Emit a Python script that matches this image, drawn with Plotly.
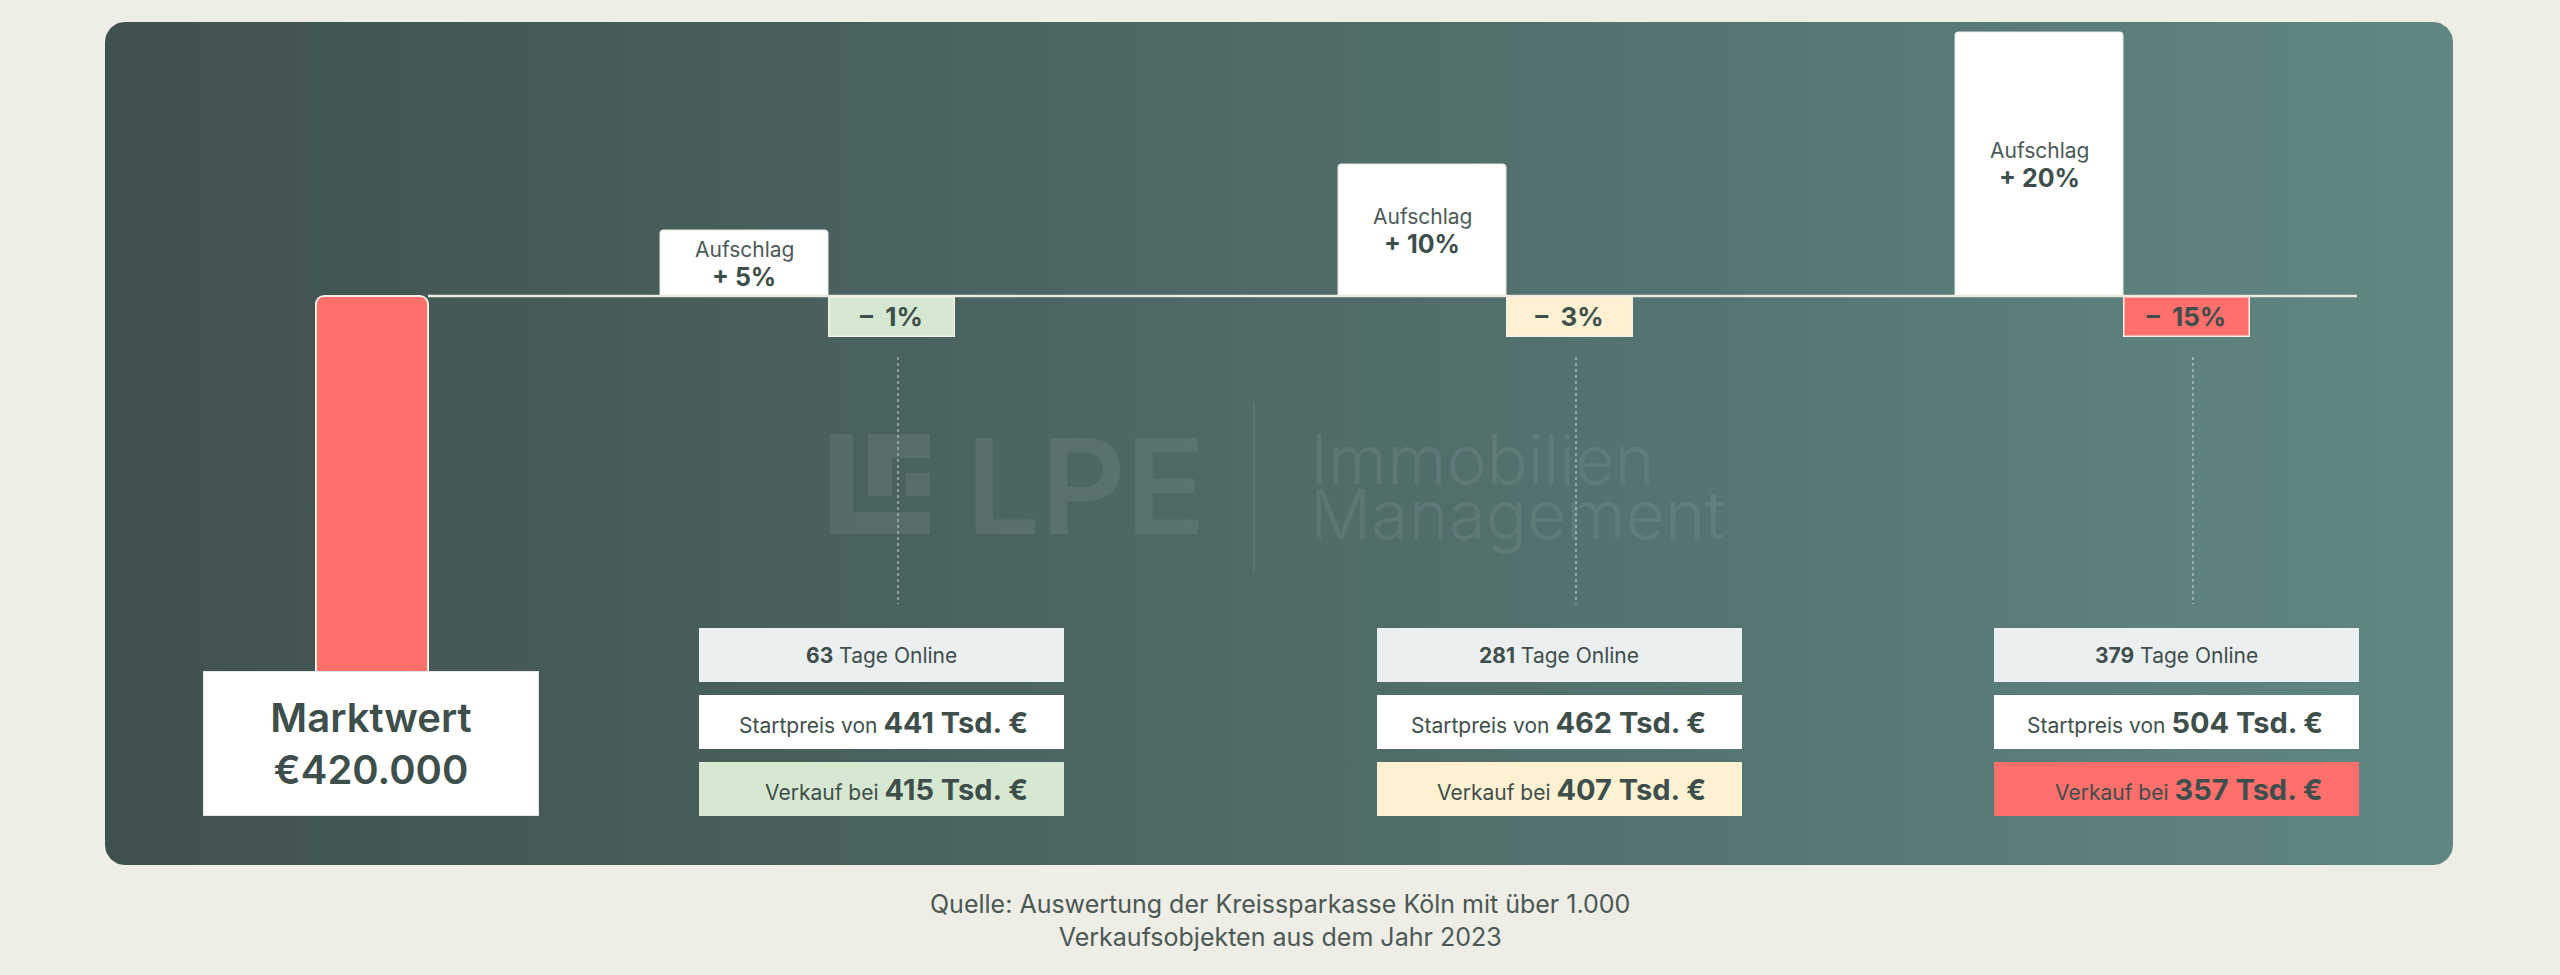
import numpy as np
import plotly.graph_objects as go

# ---------------- data ----------------
marktwert_tsd = 420
marktwert_label = "€420.000"
aufschlag_pct = [5, 10, 20]
abschlag_pct = [1, 3, 15]
tage_online = [63, 281, 379]
startpreis_tsd = [441, 462, 504]
verkauf_tsd = [415, 407, 357]
source_lines = ["Quelle: Auswertung der Kreissparkasse Köln mit über 1.000",
                "Verkaufsobjekten aus dem Jahr 2023"]

# ---------------- layout constants ----------------
W, H = 2560, 975
BASE_PX = 296            # pixel row of the zero line
PCT_PX = 13.2            # pixels per percent point
TSD_PX = 1.0             # pixels per Tsd. €
SLOT_X = [828, 1506, 2123]
MW_X = 372
TEXT = "#3e4e4b"
BG = "#eeede6"
GREEN, YELLOW, RED = "#d6e8d1", "#fdf1d2", "#ff6f6b"
NEG_COLORS = [GREEN, YELLOW, RED]
FONT = "Inter"

fig = go.Figure()

# ----- background panel with horizontal gradient (pixel axes x / y) -----
x0p, y0p, x1p, y1p, r = 105, 22, 2453, 865, 20
def arc(cx, cy, a0, a1):
    t = np.linspace(a0, a1, 12)
    return list(cx + r * np.cos(t)), list(cy + r * np.sin(t))
px, py = [], []
for cx, cy, a0, a1 in [(x1p - r, y0p + r, -np.pi / 2, 0), (x1p - r, y1p - r, 0, np.pi / 2),
                       (x0p + r, y1p - r, np.pi / 2, np.pi), (x0p + r, y0p + r, np.pi, 1.5 * np.pi)]:
    ax, ay = arc(cx, cy, a0, a1)
    px += ax
    py += ay
px.append(px[0]); py.append(py[0])
fig.add_trace(go.Scatter(x=px, y=py, mode="lines", fill="toself", line=dict(width=0),
                         fillgradient=dict(type="horizontal",
                                           colorscale=[[0, "#3f514e"], [0.5, "#4f6a67"], [1, "#608783"]]),
                         hoverinfo="skip", showlegend=False, xaxis="x", yaxis="y"))

# ----- Marktwert bar (Tsd. axis y3) -----
fig.add_trace(go.Bar(x=[MW_X], y=[marktwert_tsd], base=[-marktwert_tsd], width=112,
                     marker=dict(color=RED, line=dict(color="#f3ece2", width=2), cornerradius=8),
                     xaxis="x", yaxis="y3", hoverinfo="skip", showlegend=False))

# ----- Aufschlag bars (percent axis y2) -----
auf_x = [s - 84 for s in SLOT_X]
fig.add_trace(go.Bar(x=auf_x, y=aufschlag_pct, width=168,
                     marker=dict(color="#ffffff", line=dict(color="#e9e9e2", width=1), cornerradius=3),
                     xaxis="x", yaxis="y2", hoverinfo="skip", showlegend=False))

annotations = []
shapes = []

# Aufschlag labels
for xa, v in zip(auf_x, aufschlag_pct):
    annotations.append(dict(x=xa, y=v / 2, xref="x", yref="y2", showarrow=False, yshift=14,
                            text="Aufschlag", font=dict(size=21, color="#4c5a57", family=FONT)))
    annotations.append(dict(x=xa, y=v / 2, xref="x", yref="y2", showarrow=False, yshift=-14,
                            text=f"+ {v}%", font=dict(size=25, color=TEXT, family=FONT, weight=700)))

# Abschlag tags
for s, v, c in zip(SLOT_X, abschlag_pct, NEG_COLORS):
    annotations.append(dict(x=s + 63, y=0, xref="x", yref="y2", xanchor="center", yanchor="top",
                            showarrow=False, text=f"–  {v}%",
                            font=dict(size=26, color=TEXT, family=FONT, weight=700),
                            width=124, height=38, bgcolor=c, bordercolor="#f3efe6",
                            borderwidth=1.5, borderpad=0))

# zero line
shapes.append(dict(type="line", xref="x", yref="y2", x0=428, x1=2357, y0=0, y1=0,
                   line=dict(color="#ebe8de", width=2.5), layer="above"))

# dotted connectors
for s in SLOT_X:
    shapes.append(dict(type="line", xref="x", yref="y", x0=s + 70, x1=s + 70, y0=357, y1=604,
                       line=dict(color="rgba(225,232,228,0.75)", width=1.2, dash="dot")))

# info boxes
rows_y = [655, 722, 789]
BOX_W, BOX_H, PAD_R = 365, 54, 34
for i, s in enumerate(SLOT_X):
    cx = s + 53
    bgs = ["#eceff0", "#ffffff", NEG_COLORS[i]]
    for yy, bg in zip(rows_y, bgs):
        annotations.append(dict(x=cx, y=yy, xref="x", yref="y", xanchor="center", yanchor="middle",
                                showarrow=False, text=" ", width=BOX_W, height=BOX_H,
                                bgcolor=bg, borderpad=0, borderwidth=0))
    annotations.append(dict(x=cx, y=rows_y[0], xref="x", yref="y", xanchor="center", yanchor="middle",
                            showarrow=False, text=f"<b>{tage_online[i]}</b> Tage Online",
                            font=dict(size=21, color=TEXT, family=FONT)))
    for yy, label, val in [(rows_y[1], "Startpreis von", startpreis_tsd[i]),
                           (rows_y[2], "Verkauf bei", verkauf_tsd[i])]:
        annotations.append(dict(x=cx + BOX_W / 2 - PAD_R, y=yy, xref="x", yref="y",
                                xanchor="right", yanchor="middle", showarrow=False,
                                text=f"{label} <span style='font-size:29px;font-weight:700'>{val} Tsd. €</span>",
                                font=dict(size=21, color=TEXT, family=FONT)))

# Marktwert box
annotations.append(dict(x=MW_X - 1, y=743, xref="x", yref="y", xanchor="center", yanchor="middle",
                        showarrow=False, text=f"Marktwert<br>{marktwert_label}",
                        font=dict(size=40, color=TEXT, family=FONT, weight=600),
                        width=334, height=143, bgcolor="#ffffff", bordercolor="#e3e6e2",
                        borderwidth=1, borderpad=0))

# watermark
WM = "rgba(255,255,255,0.075)"
for (a, b, c, d) in [(830, 434, 853, 512), (830, 512, 930, 534), (868, 434, 892, 496),
                     (892, 434, 930, 458), (906, 473, 930, 496)]:
    shapes.append(dict(type="rect", xref="x", yref="y", x0=a, y0=b, x1=c, y1=d,
                       fillcolor=WM, line=dict(width=0)))
shapes.append(dict(type="line", xref="x", yref="y", x0=1254, x1=1254, y0=403, y1=572,
                   line=dict(color="rgba(255,255,255,0.08)", width=2)))
annotations.append(dict(x=964, y=486, xref="x", yref="y", xanchor="left", yanchor="middle",
                        showarrow=False, text="LPE",
                        font=dict(size=132, color=WM, family=FONT, weight=600)))
annotations.append(dict(x=1308, y=459, xref="x", yref="y", xanchor="left", yanchor="middle",
                        showarrow=False, text="Immobilien",
                        font=dict(size=68, color=WM, family=FONT, weight=300)))
annotations.append(dict(x=1308, y=514, xref="x", yref="y", xanchor="left", yanchor="middle",
                        showarrow=False, text="Management",
                        font=dict(size=68, color=WM, family=FONT, weight=300)))

# footer
annotations.append(dict(x=1280, y=920, xref="x", yref="y", xanchor="center", yanchor="middle",
                        showarrow=False, text="<br>".join(source_lines),
                        font=dict(size=25, color="#4b5854", family=FONT)))

ax_common = dict(visible=False, fixedrange=True, domain=[0, 1], showgrid=False, zeroline=False)
fig.update_layout(
    width=W, height=H, margin=dict(l=0, r=0, t=0, b=0),
    paper_bgcolor=BG, plot_bgcolor="rgba(0,0,0,0)",
    barmode="overlay", showlegend=False,
    font=dict(family=FONT, color=TEXT),
    xaxis=dict(range=[0, W], **ax_common),
    yaxis=dict(range=[H, 0], **ax_common),
    yaxis2=dict(range=[-(H - BASE_PX) / PCT_PX, BASE_PX / PCT_PX], overlaying="y", **ax_common),
    yaxis3=dict(range=[-(H - BASE_PX) / TSD_PX, BASE_PX / TSD_PX], overlaying="y", **ax_common),
    annotations=annotations, shapes=shapes,
)

fig.write_html("out.html", config={"displayModeBar": False},
               post_script="document.body.style.margin='0px';document.body.style.background='#eeede6';")
